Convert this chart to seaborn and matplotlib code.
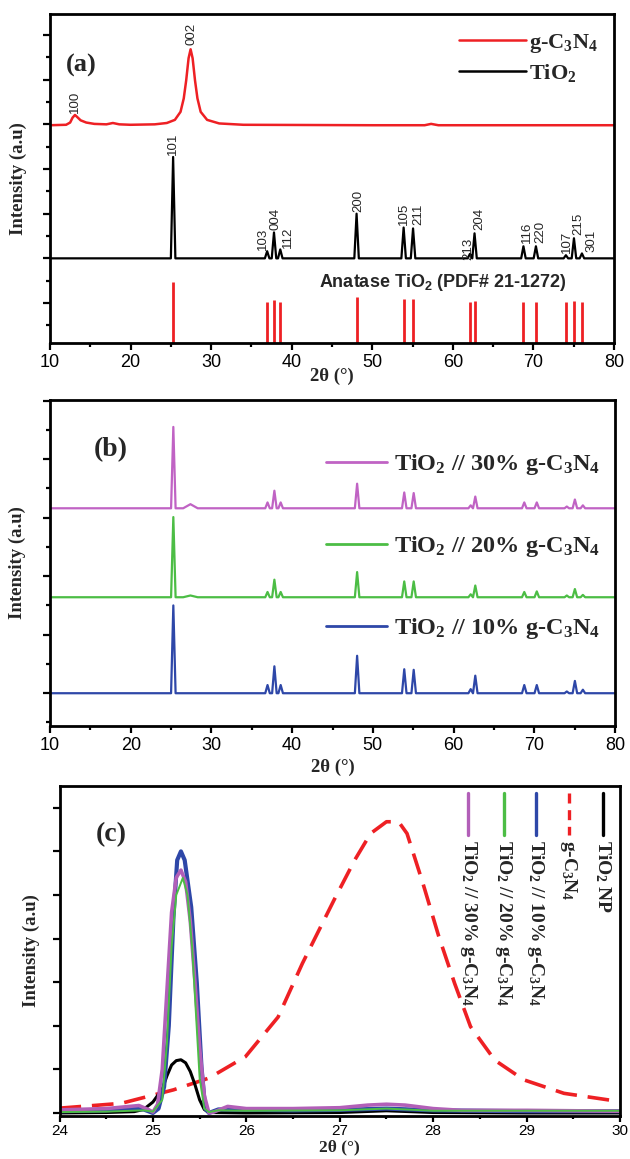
import matplotlib
matplotlib.use("Agg")
import matplotlib.pyplot as plt
import seaborn as sns
from matplotlib.ticker import MultipleLocator, NullFormatter
from matplotlib.lines import Line2D

# ---------------- data ----------------
# anatase TiO2 reflections (PDF# 21-1272)
hkl = ["101", "103", "004", "112", "200", "105", "211", "213", "204", "116", "220", "107", "215", "301"]
peak_pos = [25.28, 36.95, 37.80, 38.58, 48.05, 53.89, 55.06, 62.12, 62.69, 68.76, 70.31, 74.03, 75.03, 76.02]
ref_top = [1.47, 1.02, 1.07, 1.02, 1.13, 1.09, 1.09, 1.02, 1.04, 1.02, 1.02, 1.02, 1.04, 1.02]
# panel (a) TiO2 peak heights above baseline
tio2_amp = [2.27, 0.16, 0.58, 0.20, 1.00, 0.69, 0.67, 0.10, 0.56, 0.27, 0.27, 0.07, 0.45, 0.11]
hkl_label_x = [25.3, 36.4, 38.0, 39.5, 48.3, 53.9, 55.7, 61.9, 63.3, 69.2, 70.8, 74.1, 75.6, 77.2]
hkl_label_y = [4.31, 2.19, 2.63, 2.23, 3.04, 2.74, 2.74, 1.96, 2.63, 2.34, 2.34, 2.12, 2.52, 2.14]
tio2_base = 2.0

# panel (a) g-C3N4 trace
gcn_x = [10, 12.0, 12.5, 12.8, 13.1, 13.4, 13.8, 14.5, 15.5, 17.0, 17.8, 18.6, 20, 23, 24.5, 25.5,
         26.2, 26.6, 26.9, 27.2, 27.45, 27.7, 28.0, 28.3, 28.7, 29.5, 31, 34, 50, 56.5, 57.3, 58.2, 80]
gcn_y = [0, 0.01, 0.06, 0.17, 0.23, 0.18, 0.11, 0.06, 0.03, 0.02, 0.05, 0.02, 0.01, 0.02, 0.05, 0.12,
         0.3, 0.6, 1.0, 1.5, 1.70, 1.5, 1.0, 0.6, 0.3, 0.12, 0.04, 0.01, 0.0, 0.0, 0.03, 0.0, 0.0]
gcn_base = 4.98
gcn_labels = ["100", "002"]
gcn_label_x = [13.1, 27.6]
gcn_label_y = [5.25, 6.77]

# panel (b) composites: peak heights above each baseline
comp_names = ["TiO$_2$ // 30% g-C$_3$N$_4$", "TiO$_2$ // 20% g-C$_3$N$_4$", "TiO$_2$ // 10% g-C$_3$N$_4$"]
comp_base = [3.16, 1.64, 0.0]
amp_30 = [1.39, 0.10, 0.30, 0.10, 0.42, 0.27, 0.26, 0.05, 0.20, 0.10, 0.10, 0.03, 0.15, 0.05]
amp_20 = [1.37, 0.09, 0.30, 0.09, 0.43, 0.27, 0.27, 0.05, 0.20, 0.09, 0.10, 0.03, 0.14, 0.04]
amp_10 = [1.50, 0.14, 0.46, 0.14, 0.64, 0.41, 0.40, 0.07, 0.30, 0.14, 0.14, 0.03, 0.21, 0.06]
comp_gcn_bump = [0.07, 0.03, 0.0]   # g-C3N4 (002) hump at 27.4
comp_colors = ["#c063c4", "#4cbd45", "#2e47a8"]

# panel (c) zoom 24-30 deg, traced curves
c_gcn_x = [24.0, 24.66, 25.22, 25.6, 25.99, 26.34, 26.6, 26.94, 27.16, 27.33, 27.5, 27.63, 27.72,
           27.89, 28.06, 28.23, 28.4, 28.66, 28.97, 29.4, 30.0]
c_gcn_y = [0.11, 0.22, 0.53, 0.80, 1.29, 2.2, 3.43, 4.89, 5.8, 6.41, 6.68, 6.68, 6.41,
           5.27, 4.05, 2.97, 1.98, 1.21, 0.76, 0.45, 0.26]
c_tio2_x = [24.0, 24.5, 24.8, 24.9, 25.0, 25.1, 25.15, 25.2, 25.25, 25.3, 25.35, 25.4, 25.45, 25.5,
            25.55, 25.6, 26.0, 27.0, 27.5, 28.0, 29.0, 30.0]
c_tio2_y = [0.0, 0.01, 0.03, 0.08, 0.25, 0.55, 0.85, 1.1, 1.2, 1.22, 1.15, 0.95, 0.65, 0.3,
            0.08, 0.01, 0.0, 0.01, 0.05, 0.01, 0.0, 0.0]
c_10_x = [24.0, 24.5, 24.8, 24.9, 25.0, 25.06, 25.12, 25.17, 25.22, 25.26, 25.3, 25.34, 25.41, 25.47,
          25.52, 25.56, 25.6, 25.7, 25.8, 26.5, 27.0, 27.5, 28.0, 29.0, 30.0]
c_10_y = [0.04, 0.06, 0.1, 0.08, 0.0, 0.1, 0.6, 2.0, 4.5, 5.8, 6.0, 5.8, 4.72, 2.98,
          1.05, 0.1, 0.0, 0.08, 0.08, 0.06, 0.07, 0.1, 0.06, 0.04, 0.04]
c_20_x = [24.0, 24.5, 24.9, 25.0, 25.1, 25.15, 25.2, 25.25, 25.32, 25.37, 25.42, 25.46, 25.5, 25.55,
          25.6, 25.7, 26.0, 27.0, 27.5, 28.0, 29.0, 30.0]
c_20_y = [0.02, 0.03, 0.06, 0.03, 0.3, 1.6, 3.8, 5.0, 5.39, 5.0, 3.8, 2.3, 0.8, 0.1,
          0.02, 0.06, 0.05, 0.06, 0.1, 0.05, 0.05, 0.05]
c_30_x = [24.0, 24.5, 24.8, 24.85, 24.95, 25.0, 25.05, 25.1, 25.15, 25.2, 25.25, 25.3, 25.35, 25.4,
          25.45, 25.5, 25.55, 25.6, 25.65, 25.8, 26.0, 26.5, 27.0, 27.3, 27.5, 27.7, 28.0, 28.3, 29.0, 30.0]
c_30_y = [0.07, 0.1, 0.16, 0.17, 0.08, 0.02, 0.2, 1.0, 2.8, 4.6, 5.4, 5.57, 5.3, 4.4,
          3.0, 1.5, 0.4, 0.0, 0.02, 0.15, 0.1, 0.1, 0.12, 0.18, 0.2, 0.18, 0.1, 0.06, 0.06, 0.04]
c_legend = ["TiO$_2$ NP", "g-C$_3$N$_4$", "TiO$_2$ // 10% g-C$_3$N$_4$",
            "TiO$_2$ // 20% g-C$_3$N$_4$", "TiO$_2$ // 30% g-C$_3$N$_4$"]

xticks_ab = [10, 20, 30, 40, 50, 60, 70, 80]
xticks_c = [24, 25, 26, 27, 28, 29, 30]

# ---------------- style ----------------
sns.set_style("ticks")
plt.rcParams.update({
    "font.family": ["Liberation Serif", "DejaVu Sans"],
    "mathtext.default": "regular",
    "axes.linewidth": 2.0,
    "axes.edgecolor": "black",
    "xtick.major.width": 1.6, "ytick.major.width": 1.6,
    "xtick.minor.width": 1.6, "ytick.minor.width": 1.6,
    "xtick.major.size": 5, "ytick.major.size": 5,
    "xtick.minor.size": 3, "ytick.minor.size": 3,
    "xtick.direction": "out", "ytick.direction": "out",
    "xtick.color": "black", "ytick.color": "black",
})

RED = "#ee2024"
SERIF_B = dict(family=["Liberation Serif", "DejaVu Sans"], weight="bold")


def spikes(pos, amp, base, hw=0.28, extra=None):
    items = [(p, a, hw) for p, a in zip(pos, amp)]
    if extra is not None:
        items.append(extra)
    items.sort()
    xs, ys = [10.0], [base]
    for p, a, w in items:
        xs += [p - w, p, p + w]
        ys += [base, base + a, base]
    xs.append(80.0)
    ys.append(base)
    return xs, ys


fig = plt.figure(figsize=(6.3, 11.59), dpi=100)
axa = fig.add_axes([50 / 630, 1 - 343 / 1159, 564 / 630, 329 / 1159])
axb = fig.add_axes([50 / 630, 1 - 726 / 1159, 565 / 630, 326 / 1159])
axc = fig.add_axes([59.5 / 630, 1 - 1116 / 1159, 560.5 / 630, 330 / 1159])


def style_axis(ax, xticks, xmin, xmax, xminor, ylab_x, xlab_y, tick_fs=13, yminor=True, pad=3,
               xlab_fs=13.5):
    ax.set_xlim(xmin, xmax)
    ax.set_xticks(xticks)
    ax.set_xticklabels([str(t) for t in xticks], fontfamily="Liberation Sans", fontsize=tick_fs)
    ax.xaxis.set_minor_locator(MultipleLocator(xminor))
    ax.yaxis.set_major_locator(MultipleLocator(1))
    if yminor:
        ax.yaxis.set_minor_locator(MultipleLocator(0.5))
    ax.yaxis.set_major_formatter(NullFormatter())
    ax.tick_params(axis="both", which="both", top=False, right=False, pad=pad)
    for s in ax.spines.values():
        s.set_visible(True)
        s.set_linewidth(2.0)
    ax.set_xlabel("2θ (°)", fontsize=xlab_fs, **SERIF_B)
    ax.set_ylabel("Intensity (a.u)", fontsize=13.5, **SERIF_B)
    ax.yaxis.set_label_coords(ylab_x, 0.5)
    ax.xaxis.set_label_coords(0.5, xlab_y)


# ---------------- panel (a) ----------------
ax = axa
sns.lineplot(x=gcn_x, y=[gcn_base + gy for gy in gcn_y], ax=ax, color=RED,
             linewidth=1.8, estimator=None, sort=False, legend=False)
tx, ty = spikes(peak_pos, tio2_amp, tio2_base)
sns.lineplot(x=tx, y=ty, ax=ax, color="black", linewidth=1.6, estimator=None, sort=False, legend=False)
ax.vlines(peak_pos, 0.0, ref_top, color=RED, linewidth=2.0)
ax.set_ylim(0.105, 7.47)
for lab, lx, ly in zip(gcn_labels + hkl, gcn_label_x + hkl_label_x, gcn_label_y + hkl_label_y):
    ax.text(lx, ly, lab, rotation=90, ha="center", va="bottom", fontsize=9.5,
            fontfamily="Liberation Sans")
ax.text(58.8, 1.45, "Anatase TiO$_2$ (PDF# 21-1272)", ha="center", va="center", fontsize=13,
        fontfamily="Liberation Sans", fontweight="bold")
ax.text(0.055, 0.845, "(a)", transform=ax.transAxes, ha="center", va="center", fontsize=19, **SERIF_B)
ha = [Line2D([], [], color=RED, lw=1.8), Line2D([], [], color="black", lw=1.8)]
ax.legend(ha, ["g-C$_3$N$_4$", "TiO$_2$"], loc="upper right", bbox_to_anchor=(0.995, 0.985),
          frameon=False, prop=dict(family="Liberation Serif", weight="bold", size=16),
          handlelength=3.0, handletextpad=0.15, labelspacing=0.3, borderaxespad=0.2)
style_axis(ax, xticks_ab, 10, 80, 5, -0.04, -0.075)

# ---------------- panel (b) ----------------
ax = axb
amps = [amp_30, amp_20, amp_10]
for name, base, amp, bump, col in zip(comp_names, comp_base, amps, comp_gcn_bump, comp_colors):
    extra = (27.4, bump, 0.9) if bump > 0 else None
    bx, by = spikes(peak_pos, amp, base, extra=extra)
    sns.lineplot(x=bx, y=by, ax=ax, color=col, linewidth=1.6, estimator=None, sort=False,
                 legend=False)
ax.set_ylim(-0.56, 5.01)
ax.text(0.108, 0.847, "(b)", transform=ax.transAxes, ha="center", va="center", fontsize=20, **SERIF_B)
hb = [Line2D([], [], color=c, lw=2.0) for c in comp_colors]
ax.legend(hb, comp_names, loc="upper right", bbox_to_anchor=(1.0, 0.885),
          frameon=False, prop=dict(family="Liberation Serif", weight="bold", size=17.5),
          handlelength=2.5, handletextpad=0.3, labelspacing=2.35, borderaxespad=0.2)
style_axis(ax, xticks_ab, 10, 80, 5, -0.042, -0.1)

# ---------------- panel (c) ----------------
ax = axc
sns.lineplot(x=c_gcn_x, y=c_gcn_y, ax=ax, color=RED, linewidth=2.6, linestyle=(0, (6, 3)),
             estimator=None, sort=False, legend=False)
sns.lineplot(x=c_tio2_x, y=c_tio2_y, ax=ax, color="black", linewidth=2.2, estimator=None,
             sort=False, legend=False)
sns.lineplot(x=c_10_x, y=c_10_y, ax=ax, color="#2e47a8", linewidth=3.0, estimator=None,
             sort=False, legend=False)
sns.lineplot(x=c_30_x, y=c_30_y, ax=ax, color="#b25fb8", linewidth=2.6, estimator=None,
             sort=False, legend=False)
sns.lineplot(x=c_20_x, y=c_20_y, ax=ax, color="#4cbd45", linewidth=1.4, estimator=None,
             sort=False, legend=False)
ax.set_ylim(-0.07, 7.5)
ax.text(0.092, 0.852, "(c)", transform=ax.transAxes, ha="center", va="center", fontsize=20, **SERIF_B)
leg_cols = ["black", RED, "#2e47a8", "#4cbd45", "#b25fb8"]
leg_ls = ["-", (0, (3, 2)), "-", "-", "-"]
leg_xf = [0.970, 0.909, 0.850, 0.793, 0.729]
for lab, col, ls, xf in zip(c_legend, leg_cols, leg_ls, leg_xf):
    ax.plot([xf, xf], [0.979, 0.852], transform=ax.transAxes, color=col, lw=2.4, ls=ls)
    ax.text(xf, 0.836, lab, transform=ax.transAxes, rotation=270, ha="center", va="top",
            fontsize=14, **SERIF_B)
style_axis(ax, xticks_c, 24, 30, 0.5, -0.035, -0.07, tick_fs=11, yminor=False, pad=1.2,
           xlab_fs=12.5)
ax.tick_params(axis="x", which="major", length=4.5)
ax.tick_params(axis="x", which="minor", length=2.5)

fig.savefig("out.png", dpi=100)
